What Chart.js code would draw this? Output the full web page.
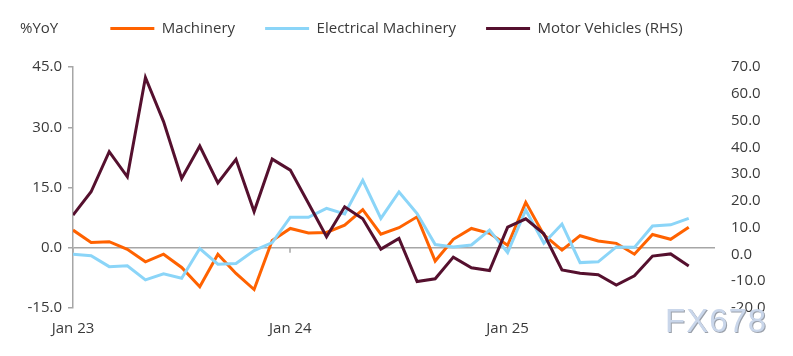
<!DOCTYPE html>
<html><head><meta charset="utf-8">
<script src="https://cdn.jsdelivr.net/npm/chart.js@4.4.1/dist/chart.umd.min.js"></script>
<style>
html,body{margin:0;padding:0;background:#fff;}
#wrap{position:relative;width:793px;height:356px;}
#wm{position:absolute;left:665px;top:302px;font-family:'Liberation Sans',Arial,sans-serif;font-size:33px;letter-spacing:1px;color:#c9d6ea;text-shadow:1px 1px 0 #9aa0aa;pointer-events:none;}
</style></head><body>
<div id="wrap"><canvas id="c" width="793" height="356"></canvas><div id="wm">FX678</div></div>
<script>
const months = ['Jan 23','Feb 23','Mar 23','Apr 23','May 23','Jun 23','Jul 23','Aug 23','Sep 23','Oct 23','Nov 23','Dec 23',
  'Jan 24','Feb 24','Mar 24','Apr 24','May 24','Jun 24','Jul 24','Aug 24','Sep 24','Oct 24','Nov 24','Dec 24',
  'Jan 25','Feb 25','Mar 25','Apr 25','May 25','Jun 25','Jul 25','Aug 25','Sep 25','Oct 25','Nov 25'];
const machinery = [4.4, 1.3, 1.5, -0.4, -3.5, -1.6, -4.9, -9.7, -1.6, -6.4, -10.4, 1.8,
  4.8, 3.7, 3.8, 5.6, 9.5, 3.4, 5.0, 7.7, -3.3, 2.1, 4.8, 3.6,
  0.6, 11.3, 3.2, -0.6, 3.0, 1.7, 1.1, -1.6, 3.3, 2.1, 5.1];
const electrical = [-1.6, -2.0, -4.7, -4.5, -8.0, -6.5, -7.6, -0.2, -4.1, -3.9, -0.7, 1.3,
  7.6, 7.6, 9.8, 8.4, 16.8, 7.3, 13.9, 8.5, 0.8, 0.2, 0.7, 4.4,
  -1.2, 9.4, 1.1, 5.9, -3.7, -3.5, 0.2, 0.1, 5.4, 5.7, 7.3];
const motorVehicles = [14.7, 23.4, 38.4, 29.0, 66.1, 49.6, 28.4, 40.5, 26.7, 35.5, 16.0, 35.6,
  31.5, 19.1, 6.6, 17.8, 13.3, 2.0, 6.0, -10.1, -9.1, -1.0, -5.0, -6.0,
  10.2, 13.3, 7.7, -5.8, -7.0, -7.6, -11.4, -8.0, -0.6, 0.2, -4.3];
const xTickLabels = ['Jan 23', 'Jan 24', 'Jan 25'];
const leftTicks = [-15, 0, 15, 30, 45];
const rightTicks = [-20, -10, 0, 10, 20, 30, 40, 50, 60, 70];
const axisTitle = '%YoY';

const toPts = arr => arr.map((v, i) => ({x: i, y: v}));
const xTickIdx = xTickLabels.map(l => months.indexOf(l));

Chart.defaults.font.family = "'Open Sans', sans-serif";
Chart.defaults.font.size = 15;
Chart.defaults.color = '#3a3a3a';

const legendSpacer = {
  id: 'legendSpacer',
  beforeInit(chart) {
    const fit = chart.legend.fit;
    chart.legend.fit = function () { fit.bind(chart.legend)(); this.height += 21; };
  }
};
const extras = {
  id: 'extras',
  beforeDatasetsDraw(chart) {
    const {ctx, scales: {x, y}} = chart;
    const y0 = y.getPixelForValue(0);
    ctx.save();
    ctx.strokeStyle = '#a6a6a6';
    ctx.lineWidth = 1.5;
    ctx.beginPath();
    xTickIdx.forEach(v => {
      const px = Math.round(x.getPixelForValue(v));
      ctx.moveTo(px, y0); ctx.lineTo(px, y0 + 5);
    });
    ctx.stroke();
    ctx.restore();
  },
  afterDraw(chart) {
    const {ctx} = chart;
    const hb = chart.legend.legendHitBoxes[0];
    ctx.save();
    ctx.font = "15px 'Open Sans', sans-serif";
    ctx.fillStyle = '#3a3a3a';
    ctx.textAlign = 'left';
    ctx.textBaseline = 'middle';
    ctx.fillText(axisTitle, 20, hb.top + hb.height / 2);
    ctx.restore();
  }
};

new Chart(document.getElementById('c'), {
  type: 'line',
  data: {
    datasets: [
      {label: 'Machinery', data: toPts(machinery), borderColor: '#FF6200', backgroundColor: '#FF6200', yAxisID: 'y', order: 3},
      {label: 'Electrical Machinery', data: toPts(electrical), borderColor: '#8BD5F8', backgroundColor: '#8BD5F8', yAxisID: 'y', order: 2},
      {label: 'Motor Vehicles (RHS)', data: toPts(motorVehicles), borderColor: '#55102E', backgroundColor: '#55102E', yAxisID: 'y1', order: 1}
    ]
  },
  options: {
    responsive: false,
    animation: false,
    layout: {padding: {top: -9, left: 0, right: 0, bottom: 0}},
    elements: {line: {borderWidth: 3, tension: 0}, point: {radius: 0}},
    plugins: {
      tooltip: {enabled: false},
      legend: {
        position: 'top',
        labels: {
          boxWidth: 44, boxHeight: 3, padding: 30, color: '#3a3a3a',
          sort: (a, b) => a.datasetIndex - b.datasetIndex,
          generateLabels(chart) {
            return Chart.defaults.plugins.legend.labels.generateLabels(chart).map(it => {
              it.lineWidth = 0; return it;
            });
          }
        }
      }
    },
    scales: {
      x: {
        type: 'linear', min: 0, max: 35.45,
        grid: {display: false}, border: {display: false},
        afterBuildTicks(scale) { scale.ticks = xTickIdx.map(v => ({value: v})); },
        afterFit(scale) { scale.height = 48; },
        ticks: {autoSkip: false, maxRotation: 0, padding: 4, callback: v => months[v]}
      },
      y: {
        position: 'left', min: -15, max: 45,
        afterBuildTicks(scale) { scale.ticks = leftTicks.map(v => ({value: v})); },
        afterFit(scale) { scale.width = 73; },
        border: {display: true, color: '#a6a6a6', width: 1.5},
        grid: {
          color: c => (c.tick && c.tick.value === 0) ? '#a6a6a6' : 'rgba(0,0,0,0)',
          lineWidth: 1.5, tickColor: '#a6a6a6', tickLength: 5, drawTicks: true
        },
        ticks: {padding: 6, callback: v => v.toFixed(1)}
      },
      y1: {
        position: 'right', min: -20, max: 70,
        afterBuildTicks(scale) { scale.ticks = rightTicks.map(v => ({value: v})); },
        afterFit(scale) { scale.width = 78; },
        border: {display: false},
        grid: {display: false, drawTicks: false, drawOnChartArea: false},
        ticks: {padding: 16, callback: v => v.toFixed(1)}
      }
    }
  },
  plugins: [legendSpacer, extras]
});
</script>
</body></html>
